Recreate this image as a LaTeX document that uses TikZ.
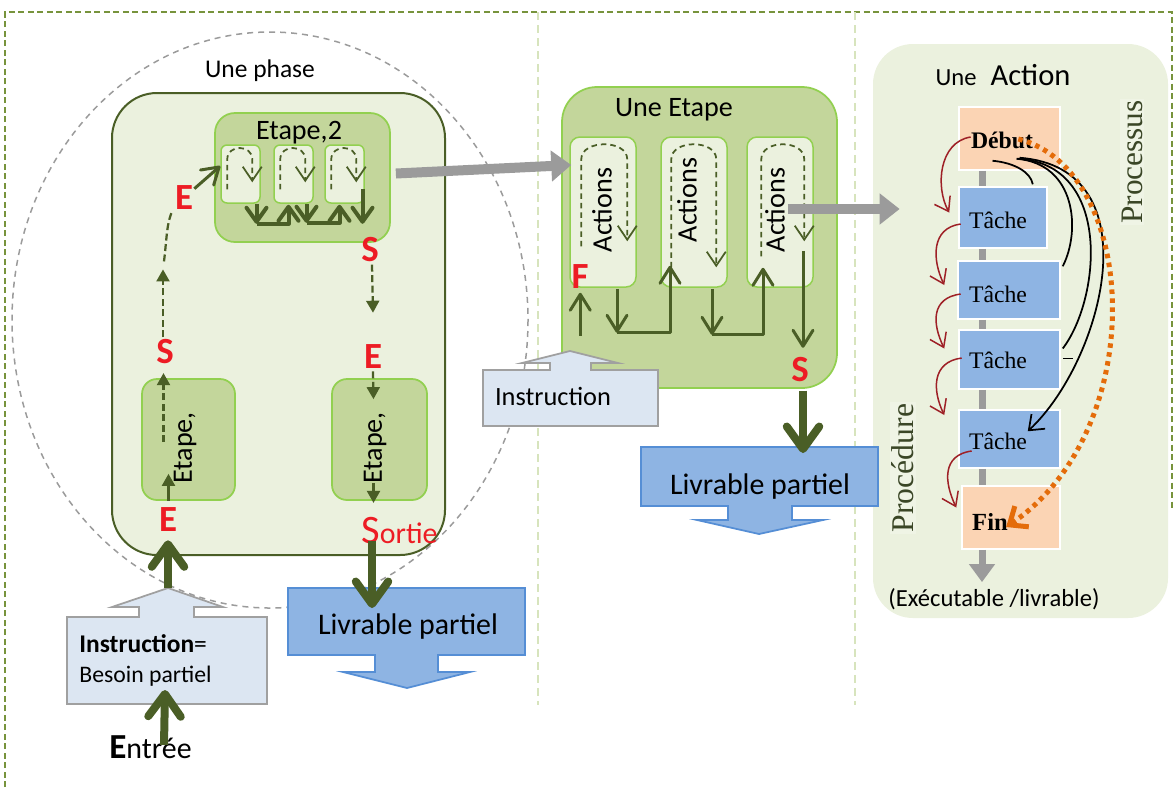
\documentclass[tikz,border=0pt]{standalone}
\usepackage{fontspec}
\setmainfont{Carlito}
\newfontfamily\timesfont{Liberation Serif}
\usetikzlibrary{arrows.meta}
\usetikzlibrary{calc}
\usetikzlibrary{fit}
\tikzset{>=latex}
\definecolor{framegreen}{RGB}{119,147,60}
\definecolor{splitgreen}{RGB}{215,228,189}
\definecolor{olivedark}{RGB}{74,94,38}
\definecolor{stepgreen}{RGB}{195,214,155}
\definecolor{stepline}{RGB}{146,208,80}
\definecolor{palegreenarea}{RGB}{235,241,222}
\definecolor{livrblue}{RGB}{142,180,227}
\definecolor{livrline}{RGB}{85,142,213}
\definecolor{instrblue}{RGB}{220,230,242}
\definecolor{instrline}{RGB}{160,160,160}
\definecolor{peach}{RGB}{251,212,180}
\definecolor{dotorange}{RGB}{228,108,10}
\definecolor{linkred}{RGB}{158,32,38}
\definecolor{letterred}{RGB}{237,28,36}
\definecolor{serifgreen}{RGB}{58,70,38}
\definecolor{arrowgray}{RGB}{155,155,155}
\tikzstyle{phasebox}=[draw=olivedark,fill=palegreenarea,line width=0.4mm,rounded corners=0.9cm,inner sep=0pt]
\tikzstyle{stepbox}=[draw=stepline,fill=stepgreen,line width=0.35mm,rounded corners=0.4cm,inner sep=0pt]
\tikzstyle{actbox}=[draw=stepline,fill=palegreenarea,line width=0.3mm,rounded corners=0.2cm,inner sep=0pt]
\tikzstyle{tachebox}=[draw=white,fill=livrblue,line width=0.3mm,inner sep=0pt]
\tikzstyle{bornebox}=[draw=white,fill=peach,line width=0.3mm,inner sep=0pt]
\tikzstyle{letter}=[text=letterred,font=\fontsize{21}{22}\selectfont\bfseries,inner sep=0pt]
\tikzstyle{lbl}=[font=\fontsize{16}{18}\selectfont,inner sep=0pt]
\tikzstyle{seriflbl}=[font=\timesfont\fontsize{13.5}{15}\selectfont,inner sep=0pt]
\tikzstyle{bigarrow}=[draw=olivedark,line width=1.6mm,-{Straight Barb[length=4.5mm,width=6.5mm,round]}]
\tikzstyle{midarrow}=[draw=olivedark,line width=0.6mm,line join=round,-{Straight Barb[length=3.2mm,width=4mm,round]}]
\tikzstyle{smallarrow}=[draw=olivedark,line width=0.8mm,line join=round,-{Straight Barb[length=2.8mm,width=4mm,round]}]
\tikzstyle{dashlink}=[draw=olivedark,line width=0.45mm,dash pattern=on 1.4mm off 0.7mm,-{Triangle[length=2.4mm,width=2.6mm]}]
\tikzstyle{shortlink}=[draw=olivedark,line width=0.45mm,-{Triangle[length=2.4mm,width=2.6mm]}]
\tikzstyle{loopline}=[draw=olivedark,line width=0.35mm,dash pattern=on 1.1mm off 0.8mm,-{Straight Barb[length=2.8mm,width=3.8mm]}]
\tikzstyle{grayarrow}=[draw=arrowgray,line width=2mm,-{Triangle[length=4mm,width=6mm]}]
\tikzstyle{spineline}=[draw=arrowgray,line width=1.4mm]
\tikzstyle{redlink}=[draw=linkred,line width=0.3mm,-{Straight Barb[length=2.6mm,width=3.6mm]}]
\tikzstyle{blacklink}=[draw=black,line width=0.35mm]
\tikzstyle{orangedots}=[draw=dotorange,line width=1mm,dash pattern=on 0.9mm off 0.9mm,-{Straight Barb[length=3mm,width=5mm]}]

\begin{document}
\begin{tikzpicture}[x=0.02cm,y=-0.02cm]
  \useasboundingbox (0,0) rectangle (1175,789);
  \draw[framegreen,line width=0.35mm,dash pattern=on 1.2mm off 0.7mm] (5,787) -- (5,12) -- (1172,12) -- (1172,510);
  \foreach \xs in {538,855}{
    \draw[splitgreen,line width=0.35mm,dash pattern=on 1.6mm off 1mm] (\xs,12) -- (\xs,705);
  }
  \node[fill=palegreenarea,rounded corners=0.8cm,inner sep=0pt,fit={(873,44) (1168,618)}] (actionpanel) {};

  % une phase
  \draw[arrowgray,line width=0.3mm,dash pattern=on 1.2mm off 1mm] (270,320) ellipse [x radius=258,y radius=288];
  \node[phasebox,fit={(112,93) (445,555)}] (phase) {};
  \node[font=\fontsize{14.5}{16}\selectfont] (phasetitle) at (260,71) {Une phase};
  \node[stepbox,fit={(215,113) (390,242)}] (etape2) {};
  \node[lbl] (etape2title) at (299,133) {Etape,2};
  \foreach \n/\xa in {1/221,2/274,3/325}{
    \node[actbox,rounded corners=0.12cm,fit={(\xa,145) (\xa+39,203)}] (a\n) {};
    \draw[loopline] ($(a\n.north west)+(7,45)$) -- ($(a\n.north west)+(7,15)$)
      .. controls ($(a\n.north west)+(7,0)$) and ($(a\n.north west)+(32,0)$) .. ($(a\n.north west)+(32,15)$)
      -- ($(a\n.north west)+(32,38)$);
  }
  \draw[smallarrow] ($(a1.south)+(16,0)$) -- ++(0,20) coordinate (k1);
  \draw[smallarrow] (k1) -- ($(a2.south)+(-5,20)$) -- ($(a2.south)+(-5,1)$);
  \draw[smallarrow] ($(a2.south)+(13,0)$) -- ++(0,19) coordinate (k2);
  \draw[smallarrow] (k2) -- ($(a3.south)+(-5,19)$) -- ($(a3.south)+(-5,1)$);
  \draw[smallarrow] ($(a3.south)+(18,-15)$) -- ($(a3.south)+(18,20)$);

  \node[stepbox,rounded corners=0.3cm,fit={(142,379) (235,500)}] (etapeg) {};
  \node[stepbox,rounded corners=0.3cm,fit={(332,379) (427,500)}] (etaped) {};
  \node[letter] (eg) at (168,520) {E};
  \node[letter] (sg) at (165,352) {S};
  \node[letter] (e2in) at (184,198) {E};
  \node[letter] (e2out) at (370,250) {S};
  \node[letter] (ed) at (373,357) {E};
  \node[anchor=base west,text=letterred,inner sep=0pt] (sortie) at (361,543) {{\fontsize{23}{24}\selectfont S}{\fontsize{17}{18}\selectfont ortie}};
  \draw[shortlink] ($(etapeg.south)+(-20,0)$) -- ++(0,-27);
  \draw[dashlink] ($(etapeg.north)+(-25,64)$) -- ($(etapeg.north)+(-25,-5)$);
  \draw[dashlink] ($(sg.north)+(-2,-2)$) -- ($(sg.north)+(-2,-70)$);
  \draw[dashlink,-] ($(sg.north)+(-1,-78)$) .. controls +(3,-25) and +(-6,12) .. ($(e2in.south west)+(-2,0)$);
  \draw[midarrow] ($(e2in.north east)+(1,3)$) -- ($(a1.west)+(0,-8)$);
  \draw[dashlink] ($(e2out.south)+(2,2)$) -- ($(ed.north)+(0,-32)$);
  \draw[dashlink] ($(ed.south)+(0,2)$) -- ($(etaped.north)+(-6,21)$);
  \draw[shortlink] ($(etaped.south)+(-6,-18)$) -- ($(etaped.south)+(-6,2)$);
  \node[lbl,rotate=90] (etapegtitle) at (185,448) {Etape,};
  \node[lbl,rotate=90] (etapedtitle) at (375,448) {Etape,};

  % instruction et livrable de la phase
  \draw[instrline,fill=instrblue,line width=0.35mm] (67,617) -- (139,617) -- (139,607) -- (112,607) -- (168,588) -- (223,607) -- (194,607) -- (194,617) -- (267,617) -- (267,704) -- (67,704) -- cycle;
  \coordinate (instr1tip) at (168,588);
  \coordinate (instr1foot) at (165,690);
  \node[anchor=base west,inner sep=0pt,font=\fontsize{14.5}{16}\selectfont] (instr1a) at (79,652) {\textbf{Instruction}=};
  \node[anchor=base west,inner sep=0pt,font=\fontsize{13.5}{15}\selectfont] (instr1b) at (79,682) {Besoin partiel};
  \node[anchor=base west,inner sep=0pt] (entree) at (109,758) {{\fontsize{20}{22}\selectfont\bfseries E}{\fontsize{17}{18}\selectfont ntrée}};
  \draw[bigarrow] ($(entree.north west)+(55,10)$) -- (instr1foot);
  \draw[bigarrow] (instr1tip) -- ($(eg.south)+(0,8)$);
  \draw[livrline,fill=livrblue,line width=0.35mm] (288,588) -- (525,588) -- (525,655) -- (438,655) -- (438,672) -- (470,672) -- (407,688) -- (343,672) -- (375,672) -- (375,655) -- (288,655) -- cycle;
  \node[font=\fontsize{17}{19}\selectfont] (livr1) at (408,627) {Livrable partiel};
  \coordinate (livr1top) at (372,608);
  \draw[bigarrow] ($(sortie.base west)+(11,-2)$) -- (livr1top);

  % une etape
  \node[stepbox,rounded corners=0.7cm,fit={(562,87) (837,388)}] (uneetape) {};
  \node[lbl] (uneetapetitle) at (674,110) {Une Etape};
  \foreach \n/\xa/\l/\r/\ys/\ye in {1/570/12/58/110/105,2/661/11/56/131/131,3/747/15/58/120/105}{
    \node[actbox,fit={(\xa,137) (\xa+66,287)}] (act\n) {};
    \draw[loopline] ($(act\n.north west)+(\l,\ys)$) -- ($(act\n.north west)+(\l,23)$)
      .. controls ($(act\n.north west)+(\l,3)$) and ($(act\n.north west)+(\r,3)$) .. ($(act\n.north west)+(\r,23)$)
      -- ($(act\n.north west)+(\r,\ye)$);
  }
  \node[lbl,rotate=90] (actlbl1) at (602,210) {Actions};
  \node[lbl,rotate=90] (actlbl2) at (687,200) {Actions};
  \node[lbl,rotate=90] (actlbl3) at (775,210) {Actions};
  \node[letter] (fmid) at (580,277) {F};
  \node[letter] (smid) at (800,370) {S};
  \draw[midarrow] ($(act1.south west)+(11,48)$) -- ($(act1.south west)+(11,5)$);
  \draw[midarrow] ($(act1.south)+(14,1)$) -- ++(0,44) coordinate (m1);
  \draw[midarrow] (m1) -- ($(act2.south)+(-24,45)$) -- ($(act2.south)+(-24,-22)$);
  \draw[midarrow] ($(act2.south)+(18,1)$) -- ++(0,46) coordinate (m2);
  \draw[midarrow] (m2) -- ($(act3.south)+(-17,47)$) -- ($(act3.south)+(-17,-20)$);
  \draw[midarrow] ($(act3.south)+(23,-37)$) -- ($(act3.south)+(23,60)$);

  \draw[instrline,fill=instrblue,line width=0.35mm] (483,370) -- (550,370) -- (550,363) -- (522,363) -- (570,351) -- (618,363) -- (591,363) -- (591,370) -- (658,370) -- (658,426) -- (483,426) -- cycle;
  \node[font=\fontsize{15}{17}\selectfont] (instr2) at (553,396) {Instruction};
  \draw[livrline,fill=livrblue,line width=0.35mm] (641,447) -- (878,447) -- (878,506) -- (792,506) -- (792,520) -- (823,520) -- (759,534) -- (697,520) -- (728,520) -- (728,506) -- (641,506) -- cycle;
  \node[font=\fontsize{17}{19}\selectfont] (livr2) at (760,487) {Livrable partiel};
  \coordinate (livr2top) at (803,453);
  \draw[bigarrow] ($(smid.south)+(3,8)$) -- (livr2top);

  \draw[grayarrow] ($(etape2.east)+(5,-4)$) -- ($(act1.west)+(2,-47)$);
  \draw[grayarrow] ($(act3.east)+(-26,-3)$) -- ($(actionpanel.west)+(27,-122)$);

  % une action
  \node[anchor=base] (actiontitle) at (1003,85) {{\fontsize{14}{16}\selectfont Une}\hspace{8pt}{\fontsize{17.4}{19}\selectfont Action}};
  \node[rotate=90,font=\timesfont\fontsize{17.8}{19}\selectfont,text=serifgreen,fill=white!20!palegreenarea,inner sep=1pt] (processus) at (1132,162) {Processus};
  \node[rotate=90,font=\timesfont\fontsize{18}{19}\selectfont,text=serifgreen,fill=white!20!palegreenarea,inner sep=1pt] (procedure) at (903,468) {Procédure};
  \node[bornebox,fit={(959,107) (1060,170)}] (debut) {};
  \node[tachebox,fit={(959,187) (1047,248)}] (tache1) {};
  \node[tachebox,fit={(958,261) (1060,319)}] (tache2) {};
  \node[tachebox,fit={(959,330) (1060,389)}] (tache3) {};
  \node[tachebox,fit={(959,410) (1060,468)}] (tache4) {};
  \node[bornebox,fit={(962,486) (1060,549)}] (fin) {};
  \coordinate (spine) at (982,0);
  \foreach \u/\v in {debut/tache1,tache1/tache2,tache2/tache3,tache3/tache4,tache4/fin}{
    \draw[spineline] (\u.south -| spine) -- (\v.north -| spine);
  }
  \node[font=\fontsize{14}{16}\selectfont] (execlbl) at (994,599) {(Exécutable /livrable)};
  \draw[spineline,-{Triangle[length=3.6mm,width=5mm]}] (fin.south -| spine) -- (execlbl.north -| spine);
  \node[seriflbl,font=\timesfont\fontsize{13.5}{15}\selectfont\bfseries] (debutlbl) at (1002,140) {Début};
  \node[seriflbl] (tache1lbl) at (998,220) {Tâche};
  \node[seriflbl] (tache2lbl) at (998,294) {Tâche};
  \node[seriflbl] (tache3lbl) at (998,360) {Tâche};
  \node[seriflbl] (tache4lbl) at (998,441) {Tâche};
  \node[seriflbl,font=\timesfont\fontsize{14}{15}\selectfont\bfseries] (finlbl) at (990,522) {Fin};

  \draw[redlink] ($(debutlbl.west)+(0,-3)$) .. controls +(-32,5) and +(-14,-25) .. ($(tache1.west)+(-9,-5)$);
  \draw[redlink] ($(tache1lbl.west)+(-8,4)$) .. controls +(-30,4) and +(-12,-25) .. ($(tache2.west)+(-13,-5)$);
  \draw[redlink] ($(tache2lbl.west)+(-8,0)$) .. controls +(-30,4) and +(-12,-25) .. ($(tache3.west)+(-14,-11)$);
  \draw[redlink] ($(tache3lbl.west)+(-7,-2)$) .. controls +(-30,4) and +(-12,-25) .. ($(tache4.west)+(-14,-24)$);
  \draw[redlink] ($(tache4lbl.west)+(3,10)$) .. controls +(-30,4) and +(-12,-25) .. ($(fin.west)+(-5,-10)$);

  \draw[blacklink] ($(debut.south)+(-17,-10)$) .. controls +(22,2) and +(-2,-12) .. ($(tache1.north east)+(-15,-2)$);
  \draw[blacklink] ($(debut.south)+(7,-12)$) .. controls +(60,5) and +(18,-35) .. ($(tache2.north east)+(2,6)$);
  \draw[blacklink] ($(debut.south)+(8,-12)$) .. controls +(95,5) and +(38,-50) .. ($(tache3.east)+(2,-11)$);
  \draw[blacklink] ($(tache3.east)+(2,-1)$) -- ++(10,0);
  \draw[blacklink,-{Straight Barb[length=2.6mm,width=4mm]}] ($(debut.south)+(10,-13)$) .. controls +(135,10) and +(75,-70) .. ($(tache4.north east)+(-33,22)$);

  \draw[orangedots] ($(debutlbl.east)+(-15,-1)$) .. controls (1140,170) and (1150,430) .. ($(finlbl.east)+(-2,5)$);
\end{tikzpicture}
\end{document}
